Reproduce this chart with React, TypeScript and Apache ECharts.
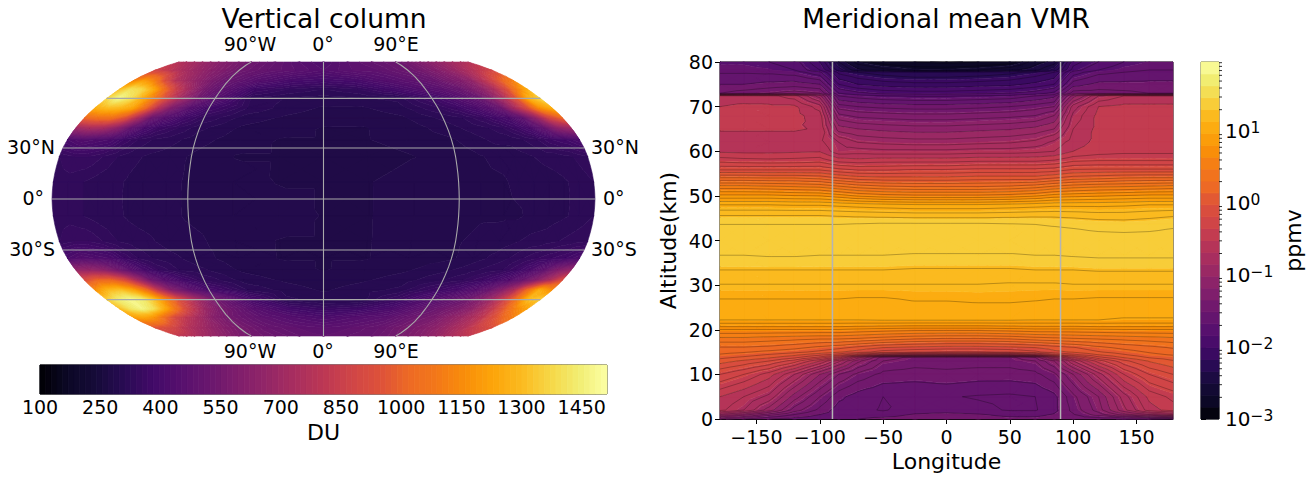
import React, { useEffect, useRef } from "react";
import * as echarts from "echarts";

// ---------- Left panel: vertical column (DU) ----------
const mapLons = [-180, -170, -160, -150, -140, -130, -120, -105, -90, -60, -30, 0, 30, 60, 90, 105, 120, 130, 140, 150, 160, 170, 180];
const mapLats = [90, 80, 72, 66, 60, 54, 48, 42, 35, 25, 10, -10, -25, -35, -42, -48, -54, -60, -66, -72, -80, -90];
const columnDU = [
  [764, 736, 708, 680, 651, 623, 595, 566, 538, 496, 453, 425, 467, 496, 524, 552, 595, 623, 651, 680, 708, 736, 764],
  [877, 835, 778, 736, 693, 665, 623, 580, 538, 496, 467, 439, 467, 482, 524, 552, 595, 637, 679, 722, 778, 835, 877],
  [1117, 1202, 1117, 920, 778, 708, 651, 566, 510, 439, 397, 383, 397, 439, 482, 510, 566, 595, 651, 764, 877, 1018, 1117],
  [1301, 1400, 1372, 1250, 1040, 850, 720, 560, 482, 368, 340, 326, 340, 383, 439, 467, 510, 566, 637, 736, 891, 1089, 1259],
  [1372, 1485, 1400, 1250, 1080, 890, 730, 550, 450, 326, 310, 305, 310, 316, 368, 411, 467, 510, 609, 750, 948, 1259, 1372],
  [1259, 1301, 1287, 1225, 1020, 770, 590, 450, 383, 326, 305, 296, 296, 305, 340, 368, 411, 453, 524, 722, 905, 1160, 1259],
  [1018, 1061, 1061, 948, 736, 524, 453, 383, 340, 305, 296, 290, 290, 296, 316, 326, 354, 383, 411, 482, 651, 877, 1018],
  [693, 736, 722, 637, 496, 411, 368, 340, 316, 296, 290, 283, 283, 290, 305, 316, 326, 340, 368, 411, 496, 637, 693],
  [411, 439, 425, 411, 368, 340, 326, 316, 305, 290, 283, 283, 283, 290, 296, 305, 316, 316, 326, 340, 368, 383, 411],
  [340, 354, 354, 340, 326, 316, 310, 305, 296, 283, 283, 276, 276, 283, 290, 296, 302, 305, 310, 316, 319, 326, 340],
  [333, 333, 326, 319, 316, 310, 305, 302, 296, 290, 283, 283, 283, 290, 290, 296, 296, 302, 302, 305, 310, 316, 326],
  [333, 333, 326, 319, 316, 310, 305, 302, 296, 290, 290, 283, 283, 290, 290, 296, 296, 296, 302, 305, 310, 316, 326],
  [340, 354, 354, 340, 326, 319, 316, 305, 302, 290, 283, 283, 283, 290, 296, 302, 305, 310, 316, 319, 326, 333, 340],
  [411, 439, 425, 411, 368, 340, 326, 316, 305, 290, 283, 283, 283, 290, 296, 305, 316, 326, 340, 354, 368, 383, 411],
  [665, 665, 637, 552, 467, 397, 354, 326, 316, 296, 290, 283, 290, 296, 310, 319, 333, 340, 368, 411, 482, 595, 665],
  [920, 1018, 1018, 920, 722, 538, 453, 383, 340, 305, 296, 290, 296, 305, 326, 340, 368, 397, 439, 510, 609, 736, 920],
  [1160, 1287, 1315, 1230, 1060, 800, 610, 480, 397, 326, 305, 296, 305, 316, 368, 397, 453, 510, 609, 750, 1018, 1259, 1160],
  [1343, 1442, 1485, 1440, 1310, 1120, 930, 720, 550, 397, 316, 305, 305, 354, 439, 482, 538, 609, 708, 863, 1061, 1301, 1343],
  [1301, 1414, 1471, 1400, 1250, 1060, 880, 690, 566, 453, 383, 354, 368, 411, 496, 538, 580, 637, 722, 835, 990, 1131, 1230],
  [1202, 1230, 1174, 1032, 891, 807, 736, 623, 552, 482, 439, 411, 439, 467, 538, 566, 637, 679, 736, 807, 920, 1018, 1117],
  [948, 920, 877, 807, 750, 708, 665, 609, 566, 510, 482, 467, 482, 510, 566, 595, 637, 679, 722, 764, 835, 877, 920],
  [807, 778, 750, 708, 679, 651, 623, 580, 552, 524, 496, 482, 496, 510, 552, 580, 609, 637, 665, 708, 736, 778, 807],
];
const duMin = 100;
const duMax = 1513;
const duBandCount = 100;
const duTicks = [100, 250, 400, 550, 700, 850, 1000, 1150, 1300, 1450];
const gratLats = [-60, -30, 0, 30, 60];
const gratLons = [-90, 0, 90];

// Robinson projection table, one row per 5 degrees of latitude
const robinsonLen = [1, 0.9986, 0.9954, 0.99, 0.9822, 0.973, 0.96, 0.9427, 0.9216, 0.8962, 0.8679, 0.835, 0.7986, 0.7597, 0.7186, 0.6732, 0.6213, 0.5722, 0.5322];
const robinsonDfe = [0, 0.062, 0.124, 0.186, 0.248, 0.31, 0.372, 0.434, 0.4958, 0.5571, 0.6176, 0.6769, 0.7346, 0.7903, 0.8435, 0.8936, 0.9394, 0.9761, 1];

// ---------- Right panel: log10 of the meridional mean VMR (ppmv) ----------
const vmrLons = [-178.75, -160, -140, -120, -100, -85, -70, -50, -25, 0, 25, 50, 70, 85, 100, 120, 140, 160, 178.75];
const vmrAlts = [80, 78.2, 77.7, 75, 73, 72.4, 70, 68, 65, 62, 60, 58, 56, 54, 52, 50, 48, 45.6, 43.6, 40, 36.7, 33.4, 30.2, 26.9, 22.2, 20.7, 20, 18, 16, 15, 14.4, 13.8, 13, 10, 5, 2, 1, 0];
const vmrLog10 = [
  [-1.62, -1.62, -1.65, -1.7, -1.95, -2.35, -2.6, -2.7, -2.75, -2.78, -2.75, -2.7, -2.5, -2.4, -1.9, -1.75, -1.65, -1.6, -1.6],
  [-1.58, -1.58, -1.6, -1.65, -1.85, -2.2, -2.42, -2.52, -2.58, -2.58, -2.55, -2.48, -2.38, -2.22, -1.8, -1.65, -1.58, -1.55, -1.55],
  [-1.56, -1.56, -1.57, -1.6, -1.72, -2.08, -2.15, -2.2, -2.24, -2.24, -2.22, -2.18, -2.12, -2.05, -1.7, -1.58, -1.55, -1.52, -1.52],
  [-1.45, -1.45, -1.42, -1.4, -1.45, -1.85, -1.95, -2.0, -2.02, -2.02, -2.0, -1.98, -1.92, -1.85, -1.5, -1.42, -1.42, -1.42, -1.42],
  [-1.35, -1.3, -1.25, -1.2, -1.25, -1.65, -1.72, -1.78, -1.8, -1.8, -1.78, -1.75, -1.7, -1.62, -1.3, -1.3, -1.32, -1.35, -1.35],
  [-0.5, -0.5, -0.52, -0.6, -0.9, -1.55, -1.6, -1.64, -1.66, -1.66, -1.64, -1.62, -1.55, -1.48, -1.0, -0.65, -0.55, -0.55, -0.55],
  [-0.45, -0.43, -0.43, -0.43, -0.6, -1.3, -1.35, -1.38, -1.4, -1.4, -1.38, -1.35, -1.3, -1.25, -0.7, -0.45, -0.42, -0.42, -0.42],
  [-0.42, -0.42, -0.42, -0.42, -0.5, -1.12, -1.18, -1.2, -1.22, -1.22, -1.2, -1.18, -1.15, -1.05, -0.62, -0.42, -0.4, -0.38, -0.38],
  [-0.44, -0.44, -0.44, -0.44, -0.46, -0.9, -0.95, -0.98, -1.0, -1.0, -0.98, -0.96, -0.92, -0.85, -0.55, -0.42, -0.38, -0.35, -0.36],
  [-0.5, -0.5, -0.5, -0.5, -0.52, -0.65, -0.75, -0.78, -0.8, -0.8, -0.78, -0.76, -0.72, -0.62, -0.5, -0.42, -0.38, -0.38, -0.4],
  [-0.47, -0.48, -0.48, -0.47, -0.46, -0.62, -0.6, -0.62, -0.62, -0.62, -0.6, -0.6, -0.58, -0.55, -0.45, -0.4, -0.38, -0.38, -0.38],
  [-0.3, -0.32, -0.33, -0.32, -0.3, -0.4, -0.42, -0.4, -0.4, -0.4, -0.38, -0.38, -0.38, -0.35, -0.28, -0.26, -0.26, -0.26, -0.26],
  [-0.08, -0.08, -0.08, -0.08, -0.08, -0.14, -0.18, -0.18, -0.16, -0.16, -0.14, -0.14, -0.14, -0.12, -0.06, -0.05, -0.05, -0.05, -0.05],
  [0.26, 0.26, 0.25, 0.25, 0.22, 0.15, 0.1, 0.08, 0.08, 0.08, 0.1, 0.1, 0.1, 0.15, 0.2, 0.22, 0.25, 0.26, 0.26],
  [0.6, 0.6, 0.58, 0.56, 0.54, 0.48, 0.42, 0.38, 0.36, 0.36, 0.36, 0.38, 0.42, 0.48, 0.52, 0.55, 0.56, 0.58, 0.6],
  [0.88, 0.88, 0.88, 0.86, 0.85, 0.8, 0.74, 0.7, 0.68, 0.68, 0.68, 0.7, 0.74, 0.8, 0.82, 0.84, 0.86, 0.88, 0.88],
  [1.15, 1.15, 1.15, 1.14, 1.14, 1.12, 1.1, 1.08, 1.06, 1.06, 1.06, 1.08, 1.1, 1.12, 1.12, 1.12, 1.13, 1.15, 1.15],
  [1.35, 1.35, 1.35, 1.35, 1.35, 1.34, 1.33, 1.32, 1.31, 1.31, 1.31, 1.32, 1.33, 1.33, 1.32, 1.3, 1.3, 1.32, 1.34],
  [1.45, 1.45, 1.45, 1.45, 1.45, 1.45, 1.46, 1.47, 1.47, 1.47, 1.47, 1.46, 1.45, 1.44, 1.43, 1.41, 1.4, 1.41, 1.43],
  [1.52, 1.52, 1.52, 1.52, 1.52, 1.52, 1.53, 1.53, 1.53, 1.53, 1.53, 1.53, 1.52, 1.52, 1.51, 1.5, 1.5, 1.5, 1.51],
  [1.45, 1.45, 1.46, 1.46, 1.45, 1.45, 1.45, 1.45, 1.44, 1.44, 1.44, 1.44, 1.45, 1.45, 1.46, 1.47, 1.47, 1.47, 1.47],
  [1.35, 1.35, 1.35, 1.35, 1.35, 1.35, 1.35, 1.35, 1.34, 1.34, 1.34, 1.34, 1.35, 1.35, 1.35, 1.36, 1.36, 1.36, 1.36],
  [1.25, 1.25, 1.25, 1.25, 1.25, 1.25, 1.25, 1.25, 1.25, 1.25, 1.25, 1.24, 1.24, 1.24, 1.25, 1.25, 1.25, 1.25, 1.25],
  [1.15, 1.15, 1.15, 1.15, 1.15, 1.15, 1.14, 1.14, 1.16, 1.16, 1.17, 1.17, 1.16, 1.15, 1.15, 1.14, 1.14, 1.14, 1.14],
  [1.05, 1.05, 1.05, 1.05, 1.05, 1.05, 1.05, 1.06, 1.06, 1.06, 1.06, 1.06, 1.05, 1.05, 1.05, 1.05, 1.04, 1.04, 1.04],
  [0.85, 0.85, 0.85, 0.85, 0.85, 0.85, 0.84, 0.83, 0.82, 0.82, 0.82, 0.83, 0.84, 0.84, 0.84, 0.85, 0.85, 0.85, 0.85],
  [0.74, 0.74, 0.74, 0.74, 0.74, 0.74, 0.72, 0.7, 0.68, 0.68, 0.68, 0.7, 0.72, 0.72, 0.72, 0.73, 0.74, 0.74, 0.74],
  [0.52, 0.52, 0.5, 0.48, 0.46, 0.46, 0.44, 0.4, 0.36, 0.34, 0.34, 0.36, 0.4, 0.42, 0.44, 0.46, 0.48, 0.5, 0.52],
  [0.34, 0.34, 0.32, 0.28, 0.22, 0.18, 0.12, 0.05, 0.02, 0.0, 0.0, 0.02, 0.05, 0.1, 0.14, 0.22, 0.28, 0.32, 0.36],
  [0.28, 0.26, 0.22, 0.18, 0.12, 0.06, 0.0, -0.1, -0.14, -0.16, -0.16, -0.14, -0.08, 0.02, 0.06, 0.14, 0.2, 0.26, 0.3],
  [0.24, 0.2, 0.14, 0.08, -0.02, -0.1, -0.28, -0.5, -0.56, -0.58, -0.58, -0.56, -0.45, -0.2, -0.08, 0.05, 0.14, 0.22, 0.26],
  [0.18, 0.13, 0.07, -0.02, -0.18, -0.38, -0.8, -1.2, -1.28, -1.3, -1.3, -1.28, -1.15, -0.7, -0.35, -0.08, 0.06, 0.16, 0.2],
  [0.1, 0.03, -0.05, -0.2, -0.45, -0.72, -1.02, -1.25, -1.3, -1.3, -1.3, -1.3, -1.25, -1.05, -0.65, -0.3, -0.08, 0.06, 0.14],
  [-0.15, -0.25, -0.4, -0.65, -0.95, -1.15, -1.28, -1.38, -1.4, -1.38, -1.4, -1.4, -1.38, -1.28, -1.05, -0.7, -0.35, -0.15, -0.05],
  [-0.45, -0.55, -0.68, -1.0, -1.25, -1.42, -1.5, -1.55, -1.55, -1.54, -1.56, -1.57, -1.55, -1.48, -1.28, -1.05, -0.7, -0.42, -0.32],
  [-0.52, -0.65, -0.9, -1.2, -1.38, -1.5, -1.52, -1.56, -1.5, -1.5, -1.52, -1.56, -1.56, -1.48, -1.32, -1.1, -0.78, -0.5, -0.4],
  [-0.85, -1.0, -1.2, -1.35, -1.45, -1.48, -1.48, -1.5, -1.44, -1.42, -1.44, -1.48, -1.48, -1.44, -1.36, -1.2, -1.0, -0.85, -0.75],
  [-1.25, -1.35, -1.45, -1.5, -1.5, -1.48, -1.45, -1.42, -1.4, -1.38, -1.4, -1.42, -1.42, -1.4, -1.4, -1.42, -1.45, -1.45, -1.5],
];
const logMin = -3;
const logMax = 1.964;
const vmrBandCount = 30;
const bandOffset = 0.07;
const contourStep = 0.1;
const contourTop = 1.45;
const lonTicks = [-150, -100, -50, 0, 50, 100, 150];
const markerLons = [-90, 90];
const minorMultipliers = [2, 3, 4, 5, 6, 7, 8, 9];
const minorDecades = [-3, -2, -1, 0, 1];

// Inferno colour map
const infernoStops: number[][] = [
  [0, 0, 4], [12, 8, 38], [22, 11, 57], [41, 11, 84], [66, 10, 104], [87, 16, 110], [106, 23, 110],
  [127, 30, 108], [147, 38, 103], [168, 46, 95], [188, 55, 84], [208, 69, 71], [221, 81, 58],
  [237, 105, 37], [243, 120, 25], [249, 142, 9], [252, 165, 10], [251, 186, 31], [246, 215, 70],
  [241, 237, 113], [252, 255, 164],
];
function inferno(t: number): string {
  const s = Math.max(0, Math.min(1, t)) * (infernoStops.length - 1);
  const i = Math.min(infernoStops.length - 2, Math.floor(s));
  const f = s - i;
  const c = infernoStops[i].map((a, n) => Math.round(a + (infernoStops[i + 1][n] - a) * f));
  return `rgb(${c[0]},${c[1]},${c[2]})`;
}

// Filled contours of a grid, as matplotlib's contourf paints them
type V = [number, number, number];
function clipSide(poly: V[], level: number, sign: number): V[] {
  const out: V[] = [];
  for (let i = 0; i < poly.length; i++) {
    const a = poly[i];
    const b = poly[(i + 1) % poly.length];
    const fa = (a[2] - level) * sign;
    const fb = (b[2] - level) * sign;
    if (fa >= 0) out.push(a);
    if (fa * fb < 0) {
      const u = fa / (fa - fb);
      out.push([a[0] + (b[0] - a[0]) * u, a[1] + (b[1] - a[1]) * u, level]);
    }
  }
  return out;
}
function gridTriangles(xs: number[], ys: number[], grid: number[][]): V[][] {
  const tris: V[][] = [];
  for (let j = 0; j + 1 < ys.length; j++) {
    for (let i = 0; i + 1 < xs.length; i++) {
      const a: V = [xs[i], ys[j], grid[j][i]];
      const b: V = [xs[i + 1], ys[j], grid[j][i + 1]];
      const c: V = [xs[i + 1], ys[j + 1], grid[j + 1][i + 1]];
      const d: V = [xs[i], ys[j + 1], grid[j + 1][i]];
      const m: V = [(xs[i] + xs[i + 1]) / 2, (ys[j] + ys[j + 1]) / 2, (a[2] + b[2] + c[2] + d[2]) / 4];
      tris.push([a, b, m], [b, c, m], [c, d, m], [d, a, m]);
    }
  }
  return tris;
}
function bandPolygons(tris: V[][], lo: number, hi: number, n: number): V[][][] {
  const step = (hi - lo) / n;
  const bands: V[][][] = Array.from({ length: n }, () => []);
  for (const t of tris) {
    const vs = t.map((p) => p[2]);
    const k0 = Math.max(0, Math.floor((Math.min(...vs) - lo) / step));
    const k1 = Math.min(n - 1, Math.floor((Math.max(...vs) - lo) / step));
    for (let k = k0; k <= k1; k++) {
      let p = t;
      if (k > 0) p = clipSide(p, lo + k * step, 1);
      if (p.length && k < n - 1) p = clipSide(p, lo + (k + 1) * step, -1);
      if (p.length >= 3) bands[k].push(p);
    }
  }
  return bands;
}
function contourSegments(tris: V[][], level: number): number[][] {
  const segs: number[][] = [];
  for (const t of tris) {
    const pts: number[][] = [];
    for (let i = 0; i < 3; i++) {
      const a = t[i];
      const b = t[(i + 1) % 3];
      if (a[2] >= level !== b[2] >= level) {
        const u = (level - a[2]) / (b[2] - a[2]);
        pts.push([a[0] + (b[0] - a[0]) * u, a[1] + (b[1] - a[1]) * u]);
      }
    }
    if (pts.length === 2) segs.push([pts[0][0], pts[0][1], pts[1][0], pts[1][1]]);
  }
  return segs;
}

function robinson(lon: number, lat: number): number[] {
  const a = Math.min(90, Math.abs(lat)) / 5;
  const i = Math.min(17, Math.floor(a));
  const f = a - i;
  const len = robinsonLen[i] + (robinsonLen[i + 1] - robinsonLen[i]) * f;
  const dfe = robinsonDfe[i] + (robinsonDfe[i + 1] - robinsonDfe[i]) * f;
  return [(lon / 180) * len, lat < 0 ? -dfe : dfe];
}

const FONT = '"DejaVu Sans"';
const superscripts: Record<string, string> = { "-3": "−3", "-2": "−2", "-1": "−1", "0": "0", "1": "1" };

function buildOption() {
  const mapStep = (duMax - duMin) / duBandCount;
  const mapBands = bandPolygons(gridTriangles(mapLons, mapLats, columnDU), duMin, duMax, duBandCount);
  const vmrStep = (logMax - logMin) / vmrBandCount;
  const vmrTris = gridTriangles(vmrLons, vmrAlts, vmrLog10);
  const vmrBands = bandPolygons(vmrTris, logMin + bandOffset, logMax + bandOffset, vmrBandCount);
  const contourLevels: number[] = [];
  for (let l = contourTop; l > -2.9; l -= contourStep) contourLevels.push(l);

  const mapFill = (_: any, api: any) => {
    const k = api.value(2);
    let d = "";
    const px = (lon: number, lat: number) => {
      const c = api.coord(robinson(lon, lat));
      return `${c[0].toFixed(2)} ${c[1].toFixed(2)}`;
    };
    for (const poly of mapBands[k]) {
      poly.forEach((p, i) => {
        d += (i ? "L" : "M") + px(p[0], p[1]);
        const q = poly[(i + 1) % poly.length];
        if (Math.abs(p[0]) === 180 && q[0] === p[0] && Math.abs(q[1] - p[1]) > 2) {
          const n = Math.ceil(Math.abs(q[1] - p[1]) / 2);
          for (let s = 1; s < n; s++) d += "L" + px(p[0], p[1] + ((q[1] - p[1]) * s) / n);
        }
      });
      d += "Z";
    }
    const col = inferno((k + 0.5) / duBandCount);
    return { type: "path", shape: { pathData: d || "M0 0" }, style: { fill: col, stroke: col, lineWidth: 0.6 } };
  };
  const graticule = (_: any, api: any) => {
    const children: any[] = [];
    const line = (pts: number[][]) => {
      let d = "";
      pts.forEach((p, i) => {
        const c = api.coord(robinson(p[0], p[1]));
        d += (i ? "L" : "M") + c[0].toFixed(2) + " " + c[1].toFixed(2);
      });
      children.push({ type: "path", shape: { pathData: d }, style: { fill: "none", stroke: "#a9a9a9", lineWidth: 1.1 } });
    };
    for (const lat of gratLats) line([[-180, lat], [180, lat]]);
    for (const lon of gratLons) {
      const pts: number[][] = [];
      for (let lat = -90; lat <= 90; lat += 2.5) pts.push([lon, lat]);
      line(pts);
    }
    return { type: "group", children };
  };
  const plotFill = (_: any, api: any) => {
    const k = api.value(2);
    let d = "";
    for (const poly of vmrBands[k]) {
      poly.forEach((p, i) => {
        const c = api.coord([p[0], p[1]]);
        d += (i ? "L" : "M") + c[0].toFixed(2) + " " + c[1].toFixed(2);
      });
      d += "Z";
    }
    const col = inferno((k + 0.5) / vmrBandCount);
    return { type: "path", shape: { pathData: d || "M0 0" }, style: { fill: col, stroke: col, lineWidth: 0.5 } };
  };
  const plotLines = (_: any, api: any) => {
    const level = contourLevels[api.value(2)];
    let d = "";
    for (const s of contourSegments(vmrTris, level)) {
      const a = api.coord([s[0], s[1]]);
      const b = api.coord([s[2], s[3]]);
      d += `M${a[0].toFixed(2)} ${a[1].toFixed(2)}L${b[0].toFixed(2)} ${b[1].toFixed(2)}`;
    }
    return { type: "path", shape: { pathData: d || "M0 0" }, style: { fill: "none", stroke: "rgba(0,0,0,0.38)", lineWidth: 0.7 } };
  };
  const hBar = (_: any, api: any) => {
    const k = api.value(2);
    const a = api.coord([duMin + k * mapStep, 0]);
    const b = api.coord([duMin + (k + 1) * mapStep, 1]);
    const col = inferno((k + 0.5) / duBandCount);
    return { type: "rect", shape: { x: a[0], y: b[1], width: b[0] - a[0], height: a[1] - b[1] }, style: { fill: col, stroke: col, lineWidth: 0.8 } };
  };
  const vBar = (_: any, api: any) => {
    const k = api.value(2);
    const a = api.coord([0, logMin + k * vmrStep]);
    const b = api.coord([1, logMin + (k + 1) * vmrStep]);
    const col = inferno((k + 0.5) / vmrBandCount);
    return { type: "rect", shape: { x: a[0], y: b[1], width: b[0] - a[0], height: a[1] - b[1] }, style: { fill: col, stroke: col, lineWidth: 0.8 } };
  };
  const vMinor = (_: any, api: any) => {
    const c = api.coord([1, api.value(1)]);
    return { type: "line", shape: { x1: c[0], y1: c[1], x2: c[0] + 3, y2: c[1] }, style: { stroke: "#000", lineWidth: 0.8 } };
  };

  const indexed = (n: number) => Array.from({ length: n }, (_, k) => [0, 0, k]);
  const minorData: number[][] = [];
  for (const dec of minorDecades) for (const m of minorMultipliers) minorData.push([1, dec + Math.log10(m)]);

  const custom = (grid: number, renderItem: any, data: any[], z = 2) => ({
    type: "custom", xAxisIndex: grid, yAxisIndex: grid, renderItem, data, silent: true, z,
    encode: { x: 0, y: 1 }, clip: false, animation: false,
  });
  const txt = (text: string, x: number, y: number, align: string) => ({
    type: "text", x, y, silent: true,
    style: { text, font: `19px ${FONT}`, fill: "#000", textAlign: align, textVerticalAlign: "middle" },
  });
  const hiddenAxis = (min: number, max: number) => ({ type: "value", min, max, show: false });
  const labelStyle = { color: "#000", fontFamily: FONT, fontSize: 19 };

  return {
    animation: false,
    backgroundColor: "#fff",
    textStyle: { fontFamily: FONT },
    title: [
      { text: "Vertical column", left: 324, top: 3, padding: 0, textAlign: "center", textStyle: { fontFamily: FONT, fontSize: 26.5, lineHeight: 30, fontWeight: "normal", color: "#000" } },
      { text: "Meridional mean VMR", left: 946, top: 4, padding: 0, textAlign: "center", textStyle: { fontFamily: FONT, fontSize: 26.3, lineHeight: 30, fontWeight: "normal", color: "#000" } },
    ],
    grid: [
      { left: 52, top: 62, width: 543, height: 274, outerBoundsMode: "none" },
      { left: 40, top: 365, width: 567, height: 29, show: true, borderColor: "#000", borderWidth: 1, backgroundColor: "transparent", outerBoundsMode: "none" },
      { left: 720, top: 62, width: 453, height: 357, show: true, borderColor: "#000", borderWidth: 1, backgroundColor: "transparent", outerBoundsMode: "none" },
      { left: 1201, top: 62, width: 18, height: 357, show: true, borderColor: "#333", borderWidth: 1, backgroundColor: "transparent", outerBoundsMode: "none" },
    ],
    xAxis: [
      hiddenAxis(-1, 1),
      {
        type: "value", gridIndex: 1, min: duMin, max: duMax, name: "DU", nameLocation: "middle", nameGap: 27,
        nameTextStyle: { color: "#000", fontFamily: FONT, fontSize: 22 },
        axisLine: { show: false }, axisTick: { show: false }, splitLine: { show: false },
        axisLabel: { ...labelStyle, margin: 3, customValues: duTicks, formatter: (v: number) => String(v) },
      },
      {
        type: "value", gridIndex: 2, min: -178.75, max: 178.75, name: "Longitude", nameLocation: "middle", nameGap: 31,
        nameTextStyle: { color: "#000", fontFamily: FONT, fontSize: 22 },
        axisLine: { show: true, onZero: false, lineStyle: { color: "#000" } },
        axisTick: { show: true, length: 5, lineStyle: { color: "#000" }, customValues: lonTicks },
        splitLine: { show: false },
        axisLabel: { ...labelStyle, margin: 8, customValues: lonTicks, formatter: (v: number) => String(v).replace("-", "−") },
      },
      { type: "value", gridIndex: 3, min: 0, max: 1, show: false },
    ],
    yAxis: [
      hiddenAxis(-1, 1),
      { type: "value", gridIndex: 1, min: 0, max: 1, show: false },
      {
        type: "value", gridIndex: 2, min: 0, max: 80, interval: 10, name: "Altitude(km)", nameLocation: "middle", nameGap: 41, nameRotate: 90,
        nameTextStyle: { color: "#000", fontFamily: FONT, fontSize: 22 },
        axisLine: { show: true, onZero: false, lineStyle: { color: "#000" } },
        axisTick: { show: true, length: 5, lineStyle: { color: "#000" } },
        splitLine: { show: false },
        axisLabel: { ...labelStyle, margin: 7 },
      },
      {
        type: "value", gridIndex: 3, position: "right", min: logMin, max: logMax, interval: 1, name: "ppmv", nameLocation: "middle", nameGap: 63, nameRotate: 90,
        nameTextStyle: { color: "#000", fontFamily: FONT, fontSize: 22 },
        axisLine: { show: false },
        axisTick: { show: true, length: 5, lineStyle: { color: "#000" } },
        splitLine: { show: false },
        axisLabel: {
          color: "#000", fontFamily: FONT, margin: 6, align: "left",
          formatter: (v: number) => (superscripts[String(v)] ? `{a|10}{b|${superscripts[String(v)]}}` : ""),
          rich: {
            a: { fontFamily: FONT, fontSize: 20, color: "#000", height: 26, lineHeight: 26 },
            b: { fontFamily: FONT, fontSize: 15.5, color: "#000", verticalAlign: "top", height: 20, lineHeight: 20 },
          },
        },
      },
    ],
    series: [
      custom(0, mapFill, indexed(duBandCount)),
      custom(0, graticule, [[0, 0, 0]], 3),
      custom(1, hBar, indexed(duBandCount)),
      custom(2, plotFill, indexed(vmrBandCount)),
      custom(2, plotLines, indexed(contourLevels.length), 3),
      ...markerLons.map((lon) => ({
        type: "line", xAxisIndex: 2, yAxisIndex: 2, data: [[lon, 0], [lon, 80]], showSymbol: false, silent: true, z: 4,
        lineStyle: { color: "#b4b4b4", width: 1.5 }, animation: false,
      })),
      custom(3, vBar, indexed(vmrBandCount)),
      custom(3, vMinor, minorData, 3),
    ],
    graphic: {
      elements: [
        txt("90°W", 250, 44, "center"), txt("0°", 323, 44, "center"), txt("90°E", 396, 44, "center"),
        txt("90°W", 250, 351, "center"), txt("0°", 323, 351, "center"), txt("90°E", 396, 351, "center"),
        txt("30°N", 55, 147, "right"), txt("0°", 44, 198, "right"), txt("30°S", 55, 249, "right"),
        txt("30°N", 591, 147, "left"), txt("0°", 603, 198, "left"), txt("30°S", 591, 249, "left"),
      ],
    },
  };
}

export default function App() {
  const ref = useRef<HTMLDivElement>(null);
  useEffect(() => {
    document.body.style.margin = "0";
    const chart = echarts.init(ref.current!, undefined, { renderer: "svg" });
    chart.setOption(buildOption() as any);
    return () => chart.dispose();
  }, []);
  return <div ref={ref} style={{ width: 1315, height: 477 }} />;
}
